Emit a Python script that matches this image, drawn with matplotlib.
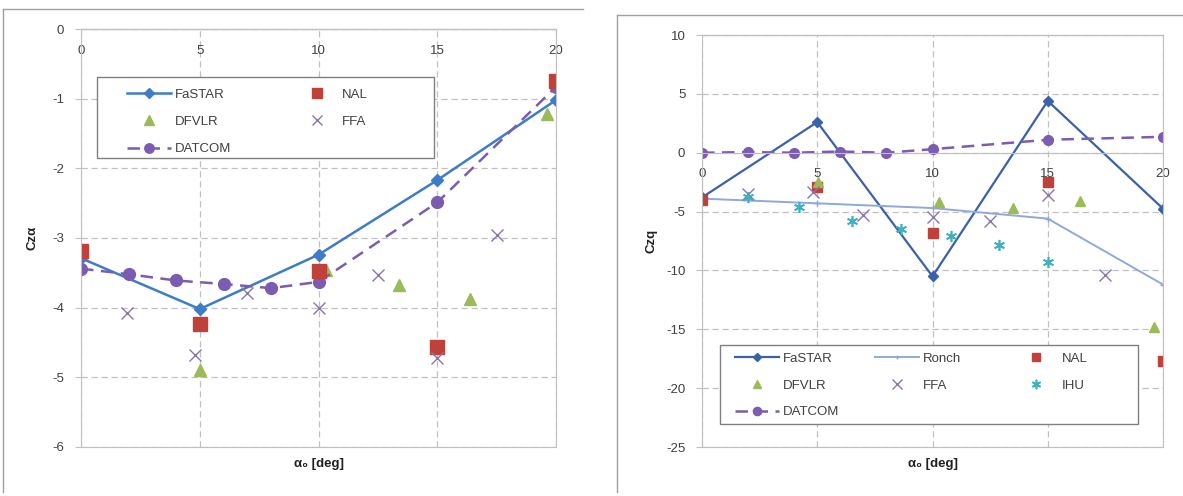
import matplotlib
matplotlib.use("Agg")
import matplotlib.pyplot as plt
from matplotlib.patches import Rectangle
from matplotlib.legend import Legend

plt.rcParams['font.family'] = ['Liberation Sans', 'DejaVu Sans']

# ---- left chart: Cz_alpha ----
fastar_x = [0, 5, 10, 15, 20]
fastar_a = [-3.29, -4.02, -3.24, -2.17, -1.02]
datcom_x = [0, 2, 4, 6, 8, 10, 15, 20]
datcom_a = [-3.44, -3.52, -3.61, -3.66, -3.72, -3.63, -2.49, -0.83]
nal_x = [0, 5, 10, 15, 20]
nal_a = [-3.18, -4.23, -3.47, -4.56, -0.75]
dfvlr_xa = [5.0, 10.3, 13.4, 16.4, 19.6]
dfvlr_a = [-4.9, -3.46, -3.67, -3.88, -1.22]
ffa_xa = [1.95, 4.8, 7.0, 10.0, 12.5, 15.0, 17.5]
ffa_a = [-4.08, -4.68, -3.79, -4.0, -3.53, -4.72, -2.95]

# ---- right chart: Czq ----
fastar_q = [-3.8, 2.6, -10.5, 4.4, -4.75]
ronch_x = [0, 5, 10, 15, 20]
ronch_q = [-3.9, -4.3, -4.7, -5.6, -11.2]
datcom_q = [0.0, 0.05, 0.0, 0.1, 0.0, 0.3, 1.1, 1.35]
nal_q = [-4.0, -2.9, -6.8, -2.5, -17.7]
dfvlr_xq = [5.05, 10.3, 13.5, 16.4, 19.6]
dfvlr_q = [-2.5, -4.2, -4.7, -4.1, -14.8]
ffa_xq = [2.0, 4.8, 7.0, 10.0, 12.5, 15.0, 17.5]
ffa_q = [-3.5, -3.3, -5.3, -5.5, -5.8, -3.6, -10.4]
ihu_x = [2.0, 4.2, 6.5, 8.65, 10.8, 12.9, 15.0]
ihu_q = [-3.8, -4.6, -5.8, -6.5, -7.1, -7.8, -9.3]

GRAY = '#c0c0c0'
TXT = '#404040'
RED = '#c0403a'
GREEN = '#9bbb59'
PURPLE = '#7b5cb0'
XPURP = '#8a76ae'
CYAN = '#3fb0c0'

fig = plt.figure(figsize=(11.83, 4.96), dpi=100)

# chart-area borders (partially cropped in the source picture)
fig.add_artist(plt.Line2D([3/1183, 583/1183], [1-9/496, 1-9/496], color='#a0a0a0', lw=1))
fig.add_artist(plt.Line2D([3/1183, 3/1183], [1-9/496, 1-492/496], color='#a0a0a0', lw=1))
fig.add_artist(plt.Line2D([617/1183, 1183/1183], [1-15/496, 1-15/496], color='#a0a0a0', lw=1))
fig.add_artist(plt.Line2D([617/1183, 617/1183], [1-15/496, 1-492/496], color='#a0a0a0', lw=1))

axL = fig.add_axes([81/1183, 1-447/496, 475/1183, 418/496])
axR = fig.add_axes([702/1183, 1-447/496, 461/1183, 412/496])


def style(ax, ylim, yticks):
    ax.set_xlim(0, 20)
    ax.set_ylim(*ylim)
    ax.set_xticks([0, 5, 10, 15, 20])
    ax.set_yticks(yticks)
    ax.set_axisbelow(True)
    ax.grid(True, color=GRAY, lw=0.9, dashes=(5, 3))
    for s in ax.spines.values():
        s.set_color(GRAY)
    ax.spines['top'].set_position(('data', 0))
    ax.xaxis.set_ticks_position('top')
    ax.tick_params(axis='x', labeltop=True, labelbottom=False, pad=-20,
                   length=0, labelsize=9.5, labelcolor=TXT)
    ax.tick_params(axis='y', length=4, color=GRAY, pad=8, labelsize=9.5, labelcolor=TXT)
    ax.plot([0, 1], [1, 1], transform=ax.transAxes, color=GRAY, lw=1, clip_on=False)
    ax.set_xlabel(u'\u03b1\u2080 [deg]', fontsize=9.5, fontweight='bold', color='#202020', labelpad=8)


def column_legends(ax, cols, xs, ytop, box, mscale, lspace):
    # Excel-style legend: equal-width columns inside one white box
    ax.add_patch(Rectangle(box[:2], box[2], box[3], transform=ax.transAxes,
                           facecolor='white', edgecolor='#808080', lw=1, zorder=4))
    for handles, x in zip(cols, xs):
        leg = Legend(ax, handles, [h.get_label() for h in handles],
                     loc='upper left', bbox_to_anchor=(x, ytop),
                     fontsize=9.5, frameon=False, handlelength=3.3,
                     labelspacing=lspace, borderpad=0, borderaxespad=0,
                     handletextpad=0.3, markerscale=mscale)
        leg.set_zorder(5)
        for t in leg.get_texts():
            t.set_color(TXT)
        ax.add_artist(leg)


# left
style(axL, (-6, 0), [-6, -5, -4, -3, -2, -1, 0])
axL.set_yticklabels(['-6', '-5', '-4', '-3', '-2', '-1', '0'])
h1, = axL.plot(fastar_x, fastar_a, '-D', color='#3d7cc9', lw=1.8, ms=6, label='FaSTAR')
h2, = axL.plot(dfvlr_xa, dfvlr_a, '^', color=GREEN, ms=9, ls='none', label='DFVLR')
h3, = axL.plot(datcom_x, datcom_a, '--o', color=PURPLE, lw=1.8, ms=8.5, dashes=(5, 3), label='DATCOM')
h4, = axL.plot(nal_x, nal_a, 's', color=RED, ms=9.5, ls='none', label='NAL')
h5, = axL.plot(ffa_xa, ffa_a, 'x', color=XPURP, ms=9, mew=1.0, ls='none', label='FFA')
axL.set_ylabel(u'Cz\u03b1', fontsize=9.5, fontweight='bold', color='#202020', labelpad=10)
column_legends(axL, [[h1, h2, h3], [h4, h5]], [0.097, 0.45], 0.858,
               (0.034, 0.691, 0.709, 0.194), 0.8, 1.15)

# right
style(axR, (-25, 10), [-25, -20, -15, -10, -5, 0, 5, 10])
axR.set_yticklabels(['-25', '-20', '-15', '-10', '-5', '0', '5', '10'])
g1, = axR.plot(fastar_x, fastar_q, '-D', color='#3a62a7', lw=1.6, ms=5, label='FaSTAR')
g2, = axR.plot(ronch_x, ronch_q, '-+', color='#8ea9db', lw=1.4, ms=4, label='Ronch')
g3, = axR.plot(nal_x, nal_q, 's', color=RED, ms=7.5, ls='none', label='NAL')
g4, = axR.plot(dfvlr_xq, dfvlr_q, '^', color=GREEN, ms=7.5, ls='none', label='DFVLR')
g5, = axR.plot(ffa_xq, ffa_q, 'x', color=XPURP, ms=8, mew=1.0, ls='none', label='FFA')
g6, = axR.plot(ihu_x, ihu_q, marker=(6, 2, 0), color=CYAN, ms=8, mew=1.2, ls='none', label='IHU')
g7, = axR.plot(datcom_x, datcom_q, '--o', color=PURPLE, lw=1.8, ms=7, dashes=(5, 3), label='DATCOM')
axR.set_ylabel('Czq', fontsize=9.5, fontweight='bold', color='#202020', labelpad=6)
column_legends(axR, [[g1, g4, g7], [g2, g5], [g3, g6]], [0.0716, 0.3753, 0.6768], 0.229,
               (0.039, 0.0558, 0.9067, 0.1917), 0.85, 1.1)

fig.savefig('out.png', dpi=100)
